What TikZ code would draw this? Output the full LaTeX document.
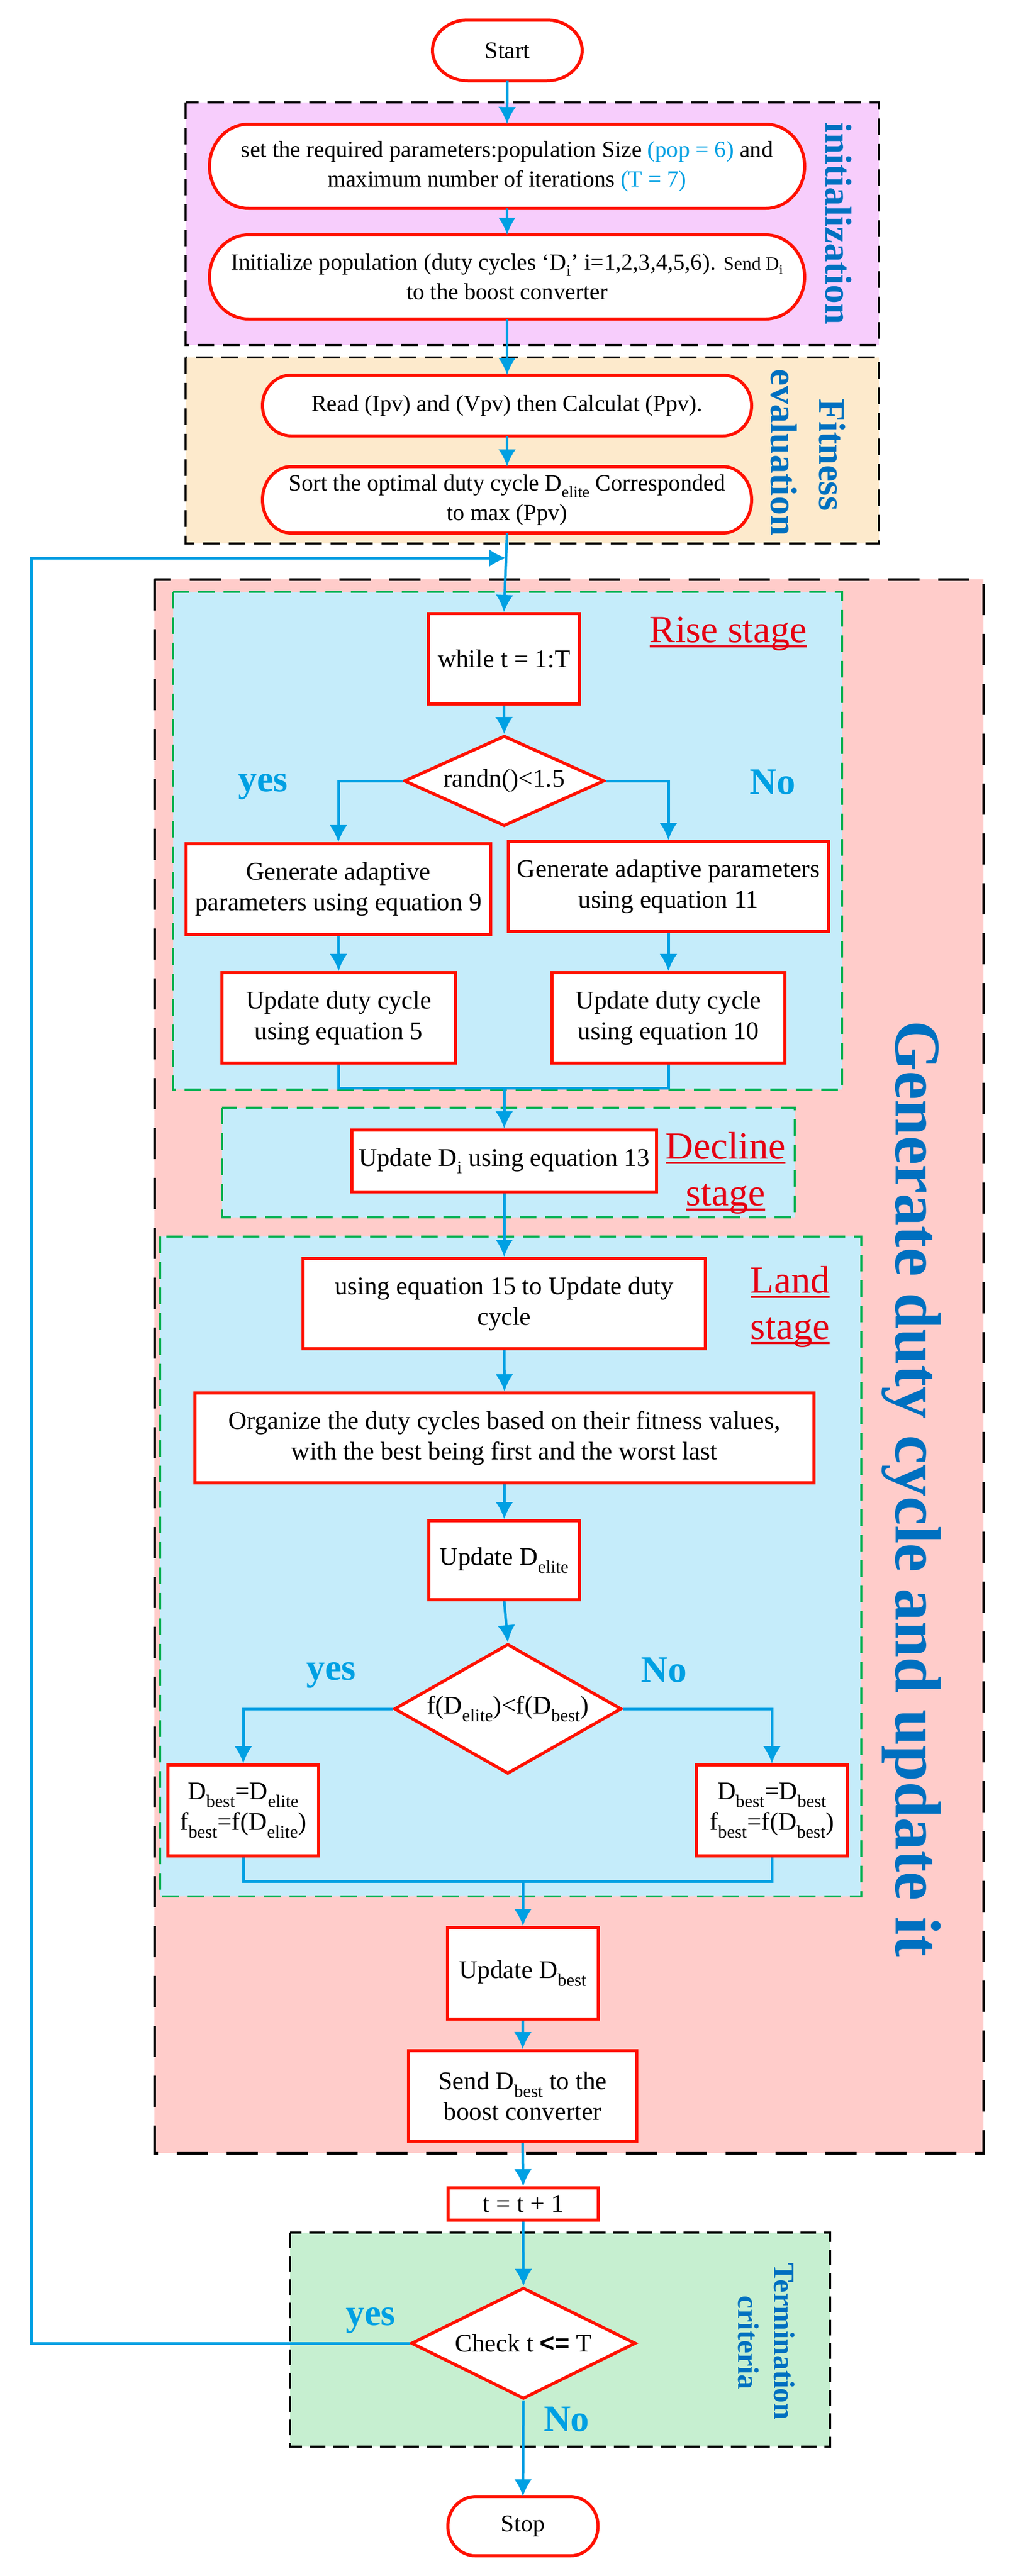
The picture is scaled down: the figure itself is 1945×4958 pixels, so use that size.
\documentclass[tikz,border=0pt]{standalone}
\usepackage{fontspec}
\setmainfont{Liberation Serif}
\setsansfont{Liberation Sans}
\usetikzlibrary{shapes.geometric, arrows.meta}
\definecolor{redc}{RGB}{255,17,0}
\definecolor{arrowc}{RGB}{0,160,227}
\definecolor{labelc}{RGB}{0,112,192}
\definecolor{stagetxt}{RGB}{230,0,18}
\definecolor{greenc}{RGB}{0,176,80}
\definecolor{initc}{RGB}{247,205,252}
\definecolor{fitc}{RGB}{253,234,204}
\definecolor{genc}{RGB}{255,204,202}
\definecolor{stagec}{RGB}{197,236,250}
\definecolor{termc}{RGB}{198,239,208}
\newlength\ulwd
\newcommand\thul[1]{\settowidth\ulwd{#1}\rlap{\rule[-10pt]{\ulwd}{4.5pt}}#1}
\newcommand\bxfont{\fontsize{49}{59}\selectfont}
\newcommand\rdfont{\fontsize{44.5}{57}\selectfont}
\newcommand\smfont{\fontsize{36}{57}\selectfont}
\newcommand\sefont{\fontsize{46}{56}\selectfont}
\newcommand\ynfont{\fontsize{72}{86}\selectfont\bfseries}
\newcommand\stfont{\fontsize{74}{90}\selectfont}
\newcommand\sdfont{\fontsize{72}{86}\selectfont\bfseries}
\newcommand\tmfont{\fontsize{57}{68}\selectfont\bfseries}
\newcommand\gnfont{\fontsize{125}{150}\selectfont\bfseries}
\newcommand\sub[1]{\textsubscript{#1}}
% name, cx, cy (px, downwards), w, h, rx, text
\newcommand\termnode[7]{%
  \path[termshape] ({#2-#4/2+#6},{-#3+#5/2}) -- ({#2+#4/2-#6},{-#3+#5/2})
     arc[start angle=90,end angle=-90,x radius=#6,y radius=#5/2]
     -- ({#2-#4/2+#6},{-#3-#5/2})
     arc[start angle=270,end angle=90,x radius=#6,y radius=#5/2] -- cycle;
  \node[termtext, minimum width=#4pt, minimum height=#5pt] (#1) at (#2,-#3) {#7};
}
\tikzset{
  region/.style={draw=black, line width=4.5pt, dash pattern=on 32pt off 17pt},
  bigregion/.style={draw=black, line width=5pt, dash pattern=on 60pt off 36pt},
  termregion/.style={draw=black, line width=4pt, dash pattern=on 30pt off 15pt},
  stagebox/.style={draw=greenc, line width=4.5pt, dash pattern=on 32pt off 17pt, fill=stagec},
  procbox/.style={rectangle, draw=redc, line width=6pt, fill=white, inner sep=0pt, align=center, font=\bxfont},
  decbox/.style={diamond, draw=redc, line width=6pt, fill=white, inner sep=0pt, align=center, font=\bxfont},
  termtext/.style={rectangle, inner sep=0pt, align=center, font=\rdfont},
  termshape/.style={draw=redc, line width=6pt, fill=white},
  arr/.style={draw=arrowc, line width=5pt, -{Latex[length=33pt,width=34pt]}},
  ln/.style={draw=arrowc, line width=5pt},
  sidelabel/.style={text=labelc, rotate=-90, anchor=base, inner sep=0pt},
  yn/.style={text=arrowc, font=\ynfont, anchor=base, inner sep=0pt},
  stagelabel/.style={text=stagetxt, font=\stfont, anchor=base, inner sep=0pt},
}
\begin{document}
\begin{tikzpicture}[x=1pt,y=1pt]
\useasboundingbox (0,0) rectangle (1945,-4958);
\fill[white] (0,0) rectangle (1945,-4958);

% regions
\path[region, fill=initc] (357,-197) rectangle (1691,-664);
\path[region, fill=fitc] (357,-688) rectangle (1691,-1046);
\path[bigregion, fill=genc] (297,-1115) rectangle (1892,-4144);
\path[termregion, fill=termc] (558,-4297) rectangle (1597,-4709);
\path[stagebox] (333,-1139) rectangle (1620,-2097);
\path[stagebox] (427,-2132) rectangle (1529,-2343);
\path[stagebox] (308,-2380) rectangle (1657,-3650);

% region labels
\node[sidelabel, font=\sdfont] (lblinit) at (1588,-430) {initialization};
\node[sidelabel, font=\sdfont] (lblfit) at (1576,-875) {Fitness};
\node[sidelabel, font=\sdfont] (lbleval) at (1483,-871) {evaluation};
\node[sidelabel, font=\gnfont] (lblgen) at (1723,-2865) {Generate duty cycle and update it};
\node[sidelabel, font=\tmfont] (lblterm) at (1489,-4506) {Termination};
\node[sidelabel, font=\tmfont] (lblcrit) at (1420,-4509) {criteria};

% stage labels
\node[stagelabel] (riseA) at (1401,-1236) {\thul{Rise stage}};
\node[stagelabel] (declA) at (1396,-2230) {\thul{Decline}};
\node[stagelabel] (declB) at (1396,-2320) {\thul{stage}};
\node[stagelabel] (landA) at (1520,-2488) {\thul{Land}};
\node[stagelabel] (landB) at (1520,-2577) {\thul{stage}};

% terminal / rounded nodes
\termnode{start}{976}{97}{288}{117}{68}{\sefont Start}
\termnode{setp}{975.5}{320}{1145}{162}{75}{set the required parameters:population Size {\color{arrowc}(pop = 6)} and\\ maximum number of iterations {\color{arrowc}(T = 7)}}
\termnode{initp}{975.5}{533}{1145}{162}{75}{Initialize population (duty cycles ‘D\sub{i}’ i=1,2,3,4,5,6). {\smfont Send D\sub{i}}\\ to the boost converter}
\termnode{readp}{975.5}{780.5}{941}{117}{55}{Read (Ipv) and (Vpv) then Calculat (Ppv).}
\termnode{sortp}{975.5}{962}{941}{128}{55}{Sort the optimal duty cycle D\sub{elite} Corresponded\\ to max (Ppv)}
\termnode{stop}{1006}{4862}{289}{114}{53}{\sefont Stop}

% process nodes
\node[procbox, minimum width=291pt, minimum height=174pt] (while) at (969.5,-1268) {while t = 1:T};
\node[decbox, shape aspect=2.2, minimum width=385pt, minimum height=174pt] (d1) at (970,-1503) {randn()<1.5};
\node[procbox, minimum width=586pt, minimum height=175pt] (gen9) at (651,-1711.5) {Generate adaptive\\ parameters using equation 9};
\node[procbox, minimum width=616pt, minimum height=173pt] (gen11) at (1286,-1706.5) {Generate adaptive parameters\\ using equation 11};
\node[procbox, minimum width=449pt, minimum height=174pt] (upd5) at (651.5,-1959) {Update duty cycle\\ using equation 5};
\node[procbox, minimum width=448pt, minimum height=174pt] (upd10) at (1286,-1959) {Update duty cycle\\ using equation 10};
\node[procbox, minimum width=586pt, minimum height=119pt] (updi) at (970,-2234.5) {Update D\sub{i} using equation 13};
\node[procbox, minimum width=774pt, minimum height=174pt] (eq15) at (970,-2509) {using equation 15 to Update duty\\ cycle};
\node[procbox, minimum width=1191pt, minimum height=173pt] (organize) at (970.5,-2767.5) {Organize the duty cycles based on their fitness values,\\ with the best being first and the worst last};
\node[procbox, minimum width=290pt, minimum height=152pt] (updel) at (970,-3003) {Update D\sub{elite}};
\node[decbox, shape aspect=1.75, minimum width=437pt, minimum height=250pt] (d2) at (977,-3289) {f(D\sub{elite})<f(D\sub{best})};
\node[procbox, minimum width=290pt, minimum height=175pt] (left) at (468,-3484.5) {D\sub{best}=D\sub{elite}\\ f\sub{best}=f(D\sub{elite})};
\node[procbox, minimum width=290pt, minimum height=175pt] (right) at (1485,-3484.5) {D\sub{best}=D\sub{best}\\ f\sub{best}=f(D\sub{best})};
\node[procbox, minimum width=290pt, minimum height=176pt] (updb) at (1006,-3798) {Update D\sub{best}};
\node[procbox, minimum width=439pt, minimum height=174pt] (send) at (1005.5,-4034) {Send D\sub{best} to the\\ boost converter};
\node[procbox, minimum width=289pt, minimum height=62pt] (tinc) at (1006.5,-4242) {t = t + 1};
\node[decbox, shape aspect=2.0, minimum width=432pt, minimum height=214pt] (d3) at (1007,-4510) {Check t {\sffamily\bfseries <=} T};

% yes / no labels
\node[yn] (yes1) at (506,-1523) {yes};
\node[yn] (no1) at (1486,-1528) {No};
\node[yn] (yes2) at (637,-3233) {yes};
\node[yn] (no2) at (1277,-3237) {No};
\node[yn] (yes3) at (713,-4475) {yes};
\node[yn] (no3) at (1090,-4679) {No};

% helper coordinates
\coordinate (jn) at (974,-1074);
\coordinate (m1) at (970,-2094);
\coordinate (m2) at (1006,-3621);
\coordinate (loopc) at (60,-4510);

% connectors
\draw[arr] (start.south) -- (setp.north);
\draw[arr] (setp.south) -- (initp.north);
\draw[arr] (initp.south) -- (readp.north);
\draw[arr] (readp.south) -- (sortp.north);
\draw[arr] (sortp.south) -- (while.north);
\draw[arr] (while.south) -- (d1.north);
\draw[arr] (d1.west) -| (gen9.north);
\draw[arr] (d1.east) -| (gen11.north);
\draw[arr] (gen9.south) -- (upd5.north);
\draw[arr] (gen11.south) -- (upd10.north);
\draw[ln] (upd5.south) |- (m1) -| (upd10.south);
\draw[arr] (m1) -- (updi.north);
\draw[arr] (updi.south) -- (eq15.north);
\draw[arr] (eq15.south) -- (organize.north);
\draw[arr] (organize.south) -- (updel.north);
\draw[arr] (updel.south) -- (d2.north);
\draw[arr] (d2.west) -| (left.north);
\draw[arr] (d2.east) -| (right.north);
\draw[ln] (left.south) |- (m2) -| (right.south);
\draw[arr] (m2) -- (updb.north);
\draw[arr] (updb.south) -- (send.north);
\draw[arr] (send.south) -- (tinc.north);
\draw[arr] (tinc.south) -- (d3.north);
\draw[arr] (d3.south) -- (stop.north);
\draw[arr] (d3.west) -- (loopc) |- (jn);
\end{tikzpicture}
\end{document}
